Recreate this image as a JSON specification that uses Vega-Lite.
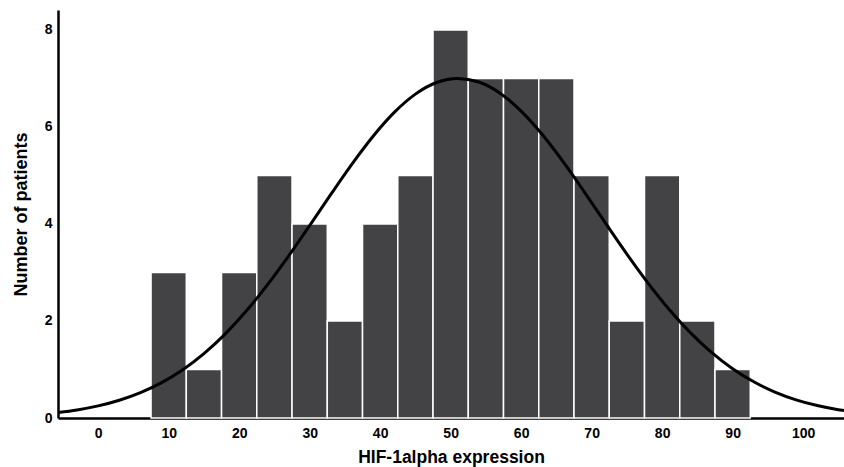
{
  "$schema": "https://vega.github.io/schema/vega-lite/v6.json",
  "width": 786,
  "height": 408,
  "autosize": {"type": "none"},
  "padding": {"left": 58, "top": 10, "right": 0, "bottom": 49},
  "background": "white",
  "config": {
    "view": {"stroke": null},
    "font": "Liberation Sans",
    "axis": {
      "grid": false,
      "ticks": false,
      "domainColor": "black",
      "domainWidth": 2.5,
      "labelFont": "Liberation Sans",
      "labelFontWeight": "bold",
      "labelFontSize": 14,
      "labelColor": "black",
      "titleFont": "Liberation Sans",
      "titleFontWeight": "bold",
      "titleFontSize": 17.5,
      "titleColor": "black"
    }
  },
  "datasets": {
    "bins": [
      {"start": 7.5, "end": 12.5, "count": 3},
      {"start": 12.5, "end": 17.5, "count": 1},
      {"start": 17.5, "end": 22.5, "count": 3},
      {"start": 22.5, "end": 27.5, "count": 5},
      {"start": 27.5, "end": 32.5, "count": 4},
      {"start": 32.5, "end": 37.5, "count": 2},
      {"start": 37.5, "end": 42.5, "count": 4},
      {"start": 42.5, "end": 47.5, "count": 5},
      {"start": 47.5, "end": 52.5, "count": 8},
      {"start": 52.5, "end": 57.5, "count": 7},
      {"start": 57.5, "end": 62.5, "count": 7},
      {"start": 62.5, "end": 67.5, "count": 7},
      {"start": 67.5, "end": 72.5, "count": 5},
      {"start": 72.5, "end": 77.5, "count": 2},
      {"start": 77.5, "end": 82.5, "count": 5},
      {"start": 82.5, "end": 87.5, "count": 2},
      {"start": 87.5, "end": 92.5, "count": 1}
    ],
    "curve": [
      {"x": -5.7, "y": 0.114}, {"x": -3, "y": 0.167}, {"x": 0, "y": 0.250},
      {"x": 3, "y": 0.366}, {"x": 6, "y": 0.523}, {"x": 9, "y": 0.730},
      {"x": 12, "y": 0.996}, {"x": 15, "y": 1.328}, {"x": 18, "y": 1.730},
      {"x": 21, "y": 2.204}, {"x": 24, "y": 2.743}, {"x": 27, "y": 3.337},
      {"x": 30, "y": 3.967}, {"x": 33, "y": 4.609}, {"x": 36, "y": 5.234},
      {"x": 39, "y": 5.808}, {"x": 42, "y": 6.299}, {"x": 45, "y": 6.676},
      {"x": 48, "y": 6.915}, {"x": 51, "y": 7.0}, {"x": 54, "y": 6.925},
      {"x": 57, "y": 6.696}, {"x": 60, "y": 6.327}, {"x": 63, "y": 5.843},
      {"x": 66, "y": 5.274}, {"x": 69, "y": 4.652}, {"x": 72, "y": 4.010},
      {"x": 75, "y": 3.378}, {"x": 78, "y": 2.781}, {"x": 81, "y": 2.238},
      {"x": 84, "y": 1.760}, {"x": 87, "y": 1.353}, {"x": 90, "y": 1.016},
      {"x": 93, "y": 0.746}, {"x": 96, "y": 0.535}, {"x": 99, "y": 0.375},
      {"x": 102, "y": 0.257}, {"x": 105, "y": 0.172}, {"x": 105.8, "y": 0.154}
    ]
  },
  "layer": [
    {
      "data": {"name": "bins"},
      "mark": {"type": "bar", "color": "#434345", "stroke": "white", "strokeWidth": 1.5},
      "encoding": {
        "x": {
          "field": "start", "type": "quantitative",
          "scale": {"domain": [-5.7, 105.8], "nice": false, "zero": false},
          "axis": {"values": [0, 10, 20, 30, 40, 50, 60, 70, 80, 90, 100], "labelPadding": 8, "title": "HIF-1alpha expression", "titlePadding": 8}
        },
        "x2": {"field": "end"},
        "y": {
          "field": "count", "type": "quantitative",
          "scale": {"domain": [0, 8.41], "nice": false},
          "axis": {"values": [0, 2, 4, 6, 8], "labelPadding": 6, "title": "Number of patients", "titlePadding": 14, "titleFontSize": 18}
        },
        "y2": {"datum": 0}
      }
    },
    {
      "data": {"name": "curve"},
      "mark": {"type": "line", "color": "black", "strokeWidth": 3, "interpolate": "monotone", "clip": true},
      "encoding": {
        "x": {"field": "x", "type": "quantitative"},
        "y": {"field": "y", "type": "quantitative"}
      }
    }
  ]
}
